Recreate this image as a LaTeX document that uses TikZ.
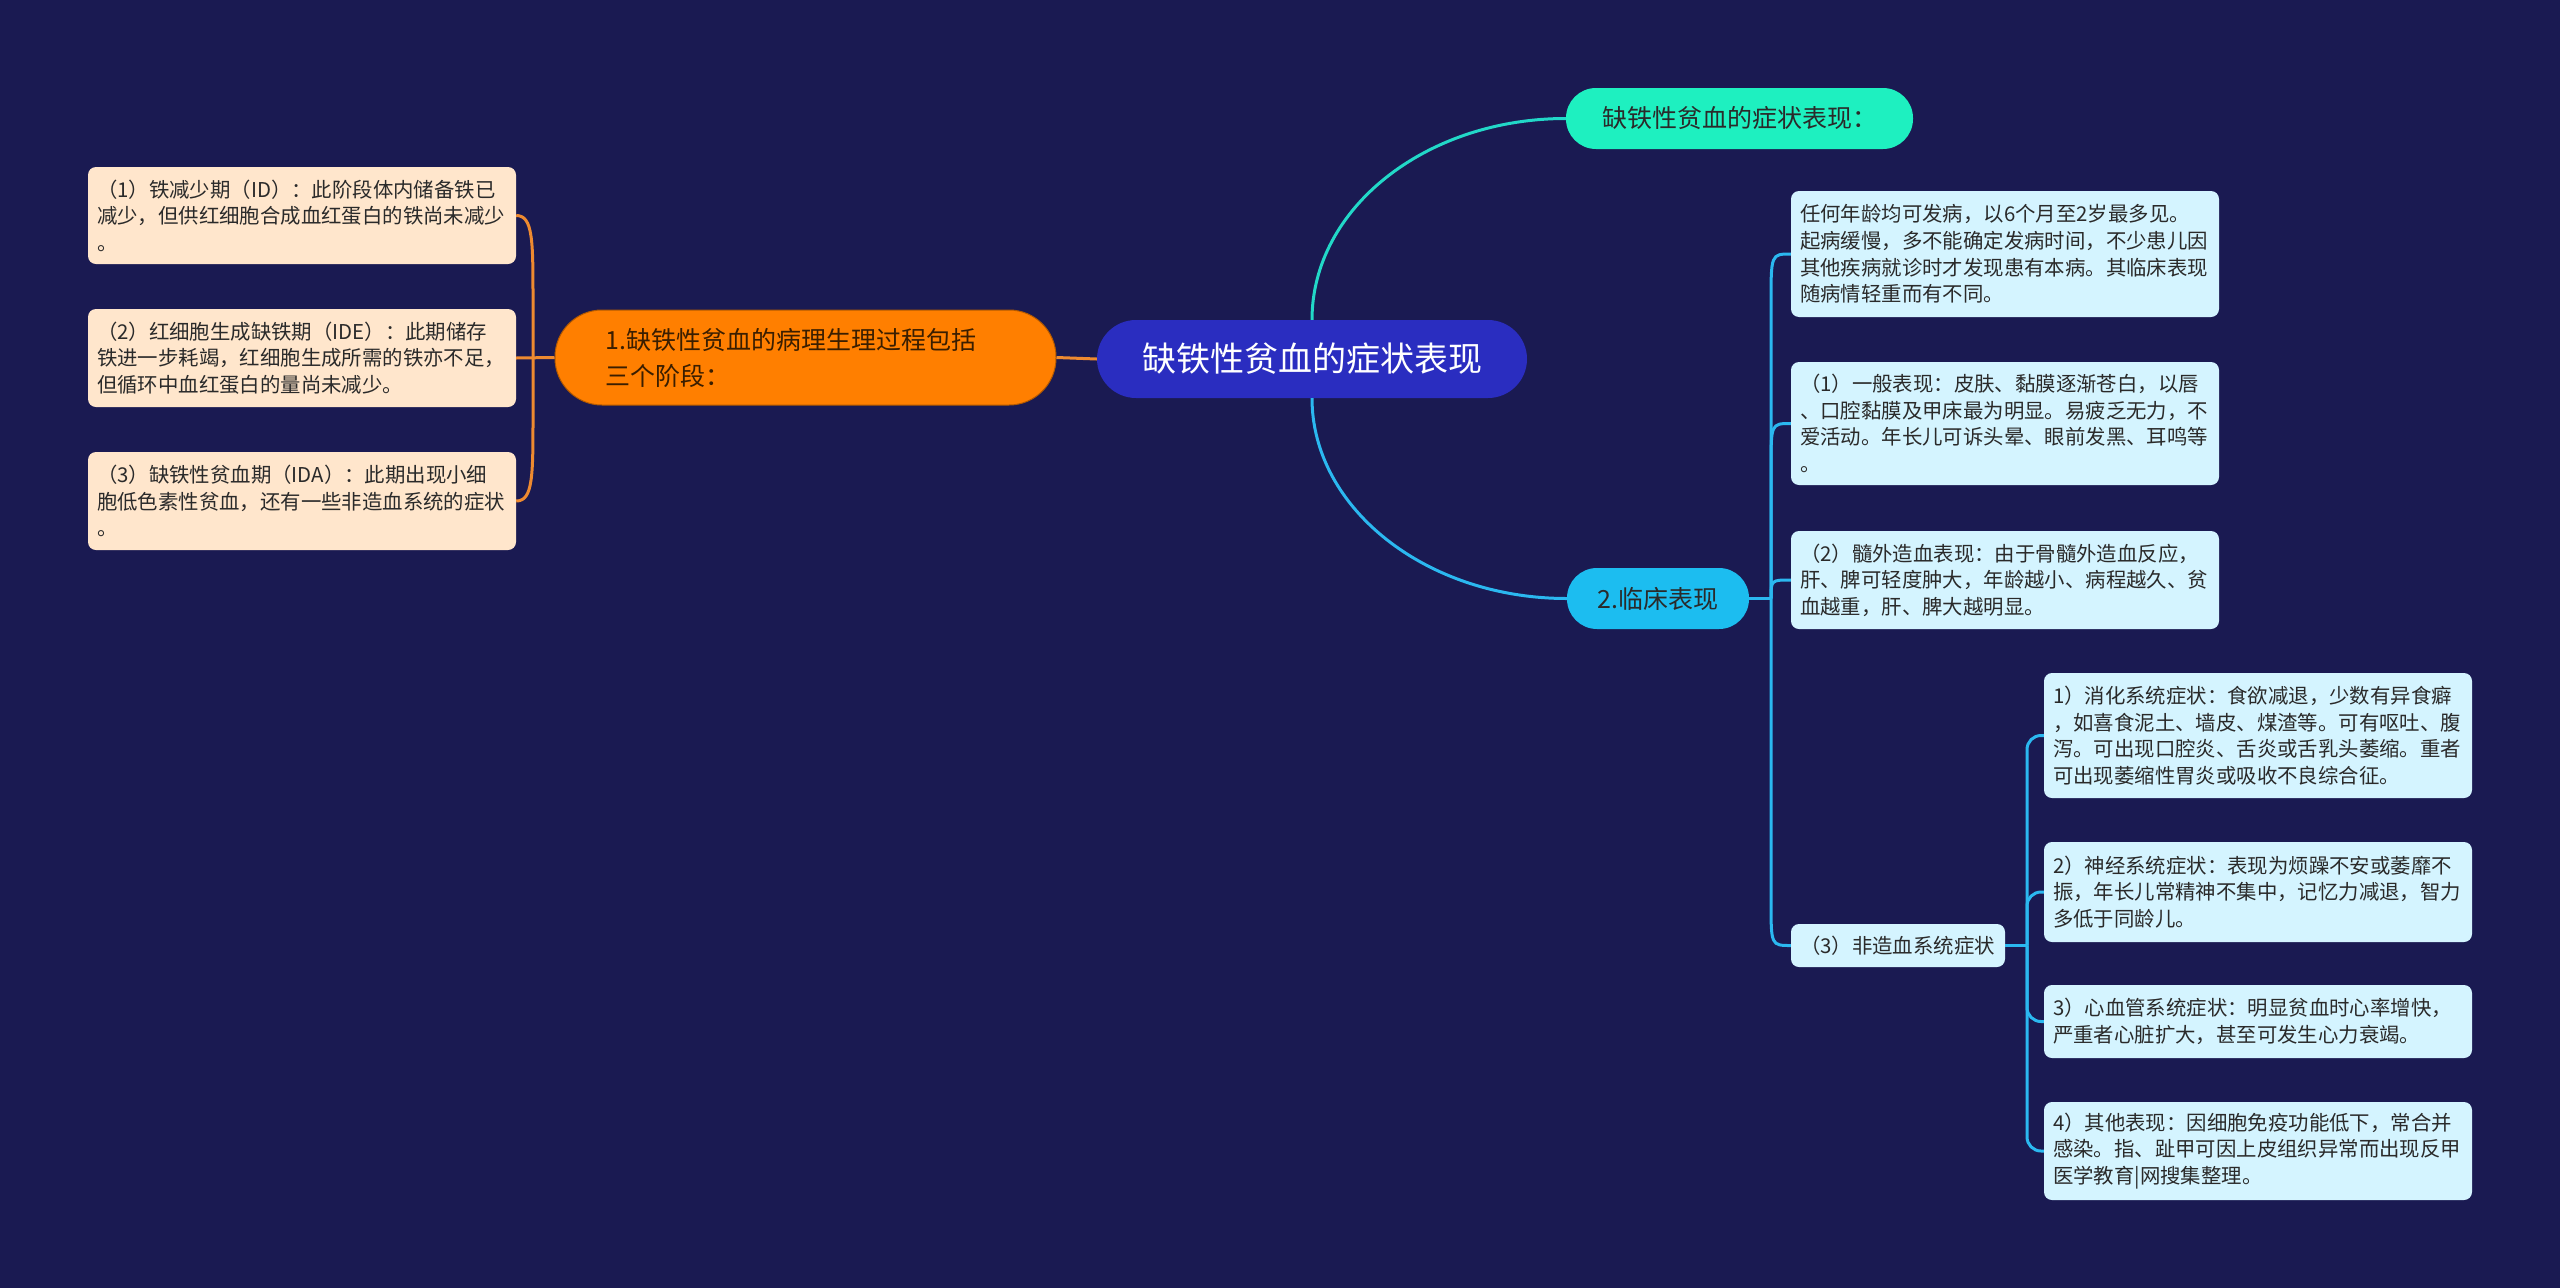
\documentclass[tikz,border=0pt]{standalone}
\usepackage{fontspec}
\setmainfont{Noto Sans CJK SC}
\usetikzlibrary{calc}
\definecolor{bg}{HTML}{1A1A52}
\definecolor{rootc}{HTML}{2A2DC0}
\definecolor{orangec}{HTML}{FF7F00}
\definecolor{orangeline}{HTML}{EE8A30}
\definecolor{greenc}{HTML}{1EF0C0}
\definecolor{clinc}{HTML}{1CBDF0}
\definecolor{blueline}{HTML}{2BB8F0}
\definecolor{tealline}{HTML}{22D8C8}
\definecolor{leafblue}{HTML}{D4F4FF}
\definecolor{leafpeach}{HTML}{FFE6CC}
\definecolor{darktext}{HTML}{2A2A2A}
\definecolor{browntext}{HTML}{3A1E00}
\begin{document}
\begin{tikzpicture}[x=1pt,y=-1pt,
  leaf/.style={rectangle, rounded corners=8pt, text=darktext,
    font=\fontsize{20.4pt}{26.6pt}\selectfont, text width=410pt,
    inner xsep=9pt, inner ysep=0pt, align=left, anchor=center},
  bleaf/.style={leaf, fill=leafblue},
  pleaf/.style={leaf, fill=leafpeach},
  pill/.style={rectangle, anchor=center, inner sep=0pt},
  oline/.style={draw=orangeline, line width=3pt},
  bline/.style={draw=blueline, line width=3pt},
]
\useasboundingbox[fill=bg] (0,0) rectangle (2560,1288);

% root
\node[pill, fill=rootc, rounded corners=39pt, minimum width=430pt, minimum height=78pt,
  text=white, font=\fontsize{34pt}{40pt}\selectfont] (root) at (1312,359) {缺铁性贫血的症状表现};

% orange branch
\node[pill, fill=orangec, draw=orangec!70!black, line width=1pt, rounded corners=47pt, minimum width=501pt, minimum height=95pt,
  text=browntext, text width=400pt, align=left, font=\fontsize{25pt}{36pt}\selectfont] (O) at (805.5,357.5)
  {1.缺铁性贫血的病理生理过程包括\\三个阶段：};

\node[pleaf, minimum height=97pt] (L1) at (302,215.5)
  {（1）铁减少期（ID）：此阶段体内储备铁已\\减少，但供红细胞合成血红蛋白的铁尚未减少\\。};
\node[pleaf, minimum height=98pt] (L2) at (302,358)
  {（2）红细胞生成缺铁期（IDE）：此期储存\\铁进一步耗竭，红细胞生成所需的铁亦不足，\\但循环中血红蛋白的量尚未减少。};
\node[pleaf, minimum height=98pt] (L3) at (302,501)
  {（3）缺铁性贫血期（IDA）：此期出现小细\\胞低色素性贫血，还有一些非造血系统的症状\\。};

% right branches
\node[pill, fill=greenc, rounded corners=30pt, minimum width=347pt, minimum height=61pt,
  text=darktext, font=\fontsize{25pt}{30pt}\selectfont] (G) at (1739.5,118.5) {缺铁性贫血的症状表现：};
\node[pill, fill=clinc, rounded corners=30pt, minimum width=182pt, minimum height=61pt,
  text=darktext, font=\fontsize{25pt}{30pt}\selectfont] (K) at (1658,598.5) {2.临床表现};

\node[bleaf, minimum height=126pt] (A) at (2005,254)
  {任何年龄均可发病，以6个月至2岁最多见。\\起病缓慢，多不能确定发病时间，不少患儿因\\其他疾病就诊时才发现患有本病。其临床表现\\随病情轻重而有不同。};
\node[bleaf, minimum height=123pt] (B) at (2005,423.5)
  {（1）一般表现：皮肤、黏膜逐渐苍白，以唇\\、口腔黏膜及甲床最为明显。易疲乏无力，不\\爱活动。年长儿可诉头晕、眼前发黑、耳鸣等\\。};
\node[bleaf, minimum height=98pt] (C) at (2005,580)
  {（2）髓外造血表现：由于骨髓外造血反应，\\肝、脾可轻度肿大，年龄越小、病程越久、贫\\血越重，肝、脾大越明显。};
\node[bleaf, text width=196pt, minimum height=43pt] (D) at (1898,945.5)
  {（3）非造血系统症状};

\node[bleaf, minimum height=125pt] (S1) at (2258,735.5)
  {1）消化系统症状：食欲减退，少数有异食癖\\，如喜食泥土、墙皮、煤渣等。可有呕吐、腹\\泻。可出现口腔炎、舌炎或舌乳头萎缩。重者\\可出现萎缩性胃炎或吸收不良综合征。};
\node[bleaf, minimum height=100pt] (S2) at (2258,892)
  {2）神经系统症状：表现为烦躁不安或萎靡不\\振，年长儿常精神不集中，记忆力减退，智力\\多低于同龄儿。};
\node[bleaf, minimum height=73pt] (S3) at (2258,1021.5)
  {3）心血管系统症状：明显贫血时心率增快，\\严重者心脏扩大，甚至可发生心力衰竭。};
\node[bleaf, minimum height=98pt] (S4) at (2258,1151)
  {4）其他表现：因细胞免疫功能低下，常合并\\感染。指、趾甲可因上皮组织异常而出现反甲\\医学教育|网搜集整理。};

% connectors: root to main branches
\draw[tealline, line width=3pt] (root.north) .. controls (1312,208) and (1426,118.5) .. (G.west);
\draw[bline] (root.south) .. controls (1312,508) and (1426,598.5) .. (K.west);
\draw[oline] (root.west) -- (O.east);

% orange bracket
\coordinate (lh) at (533,358);
\draw[oline] (L2.east) -- (O.west);
\draw[oline] (L1.east) .. controls (L1.east -| lh) and ($(L1.east -| lh)+(0,25)$) .. ($(L1.east -| lh)+(0,85)$)
  -- ($(L3.east -| lh)+(0,-85)$) .. controls ($(L3.east -| lh)+(0,-25)$) and (L3.east -| lh) .. (L3.east);

% clinical hub
\coordinate (kh) at (1771,598.5);
\draw[bline] (K.east) -- (kh);
\draw[bline] (kh) -- ($(A.west -| kh)+(0,50)$) .. controls (A.west -| kh) .. (A.west);
\draw[bline] (kh) -- ($(B.west -| kh)+(0,45)$) .. controls (B.west -| kh) .. (B.west);
\draw[bline] (kh) .. controls (C.west -| kh) .. (C.west);
\draw[bline] (kh) -- ($(D.west -| kh)+(0,-45)$) .. controls (D.west -| kh) .. (D.west);

% non-haematopoietic hub
\coordinate (dh) at (2027,945.5);
\draw[bline] (D.east) -- (dh);
\foreach \s in {S1,S2,S3,S4}{
  \draw[bline, rounded corners=14pt] (dh) |- (\s.west);
}
\end{tikzpicture}
\end{document}
